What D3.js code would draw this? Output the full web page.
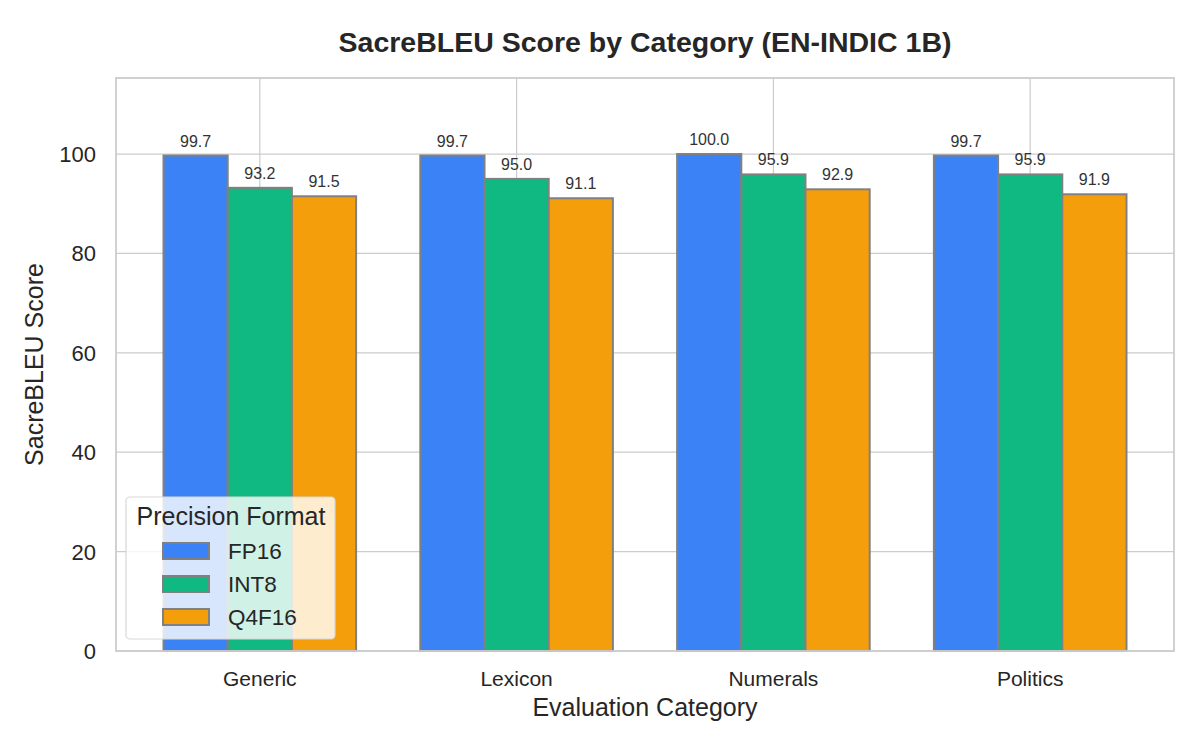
<!DOCTYPE html>
<html>
<head>
<meta charset="utf-8">
<script src="https://cdn.jsdelivr.net/npm/d3@7"></script>
<style>
  body { margin: 0; background: #fff; }
  text { font-family: "Liberation Sans", Arial, sans-serif; }
</style>
</head>
<body>
<svg id="chart"></svg>
<script>
const categories = ['Generic', 'Lexicon', 'Numerals', 'Politics'];
const formats = ['FP16', 'INT8', 'Q4F16'];
const fp16 = [99.7, 99.7, 100.0, 99.7];
const int8 = [93.2, 95.0, 95.9, 95.9];
const q4f16 = [91.5, 91.1, 92.9, 91.9];
const colors = ['#3b82f6', '#10b981', '#f59e0b'];
const yTicks = [0, 20, 40, 60, 80, 100];

const width = 1200, height = 750;
const marginLeft = 116, marginRight = 26, marginTop = 78, marginBottom = 99;

const series = [fp16, int8, q4f16];

const svg = d3.select('#chart')
  .attr('width', width)
  .attr('height', height);

// x is continuous like matplotlib: category index, bars offset by 0.25
const x = d3.scaleLinear()
  .domain([-0.56, 3.56])
  .range([marginLeft, width - marginRight]);
const y = d3.scaleLinear()
  .domain([0, 115.3])
  .range([height - marginBottom, marginTop]);
const barW = 0.25;

// grid
svg.append('g')
  .selectAll('line.h')
  .data(yTicks)
  .join('line')
  .attr('x1', marginLeft).attr('x2', width - marginRight)
  .attr('y1', d => y(d)).attr('y2', d => y(d))
  .attr('stroke', '#cccccc').attr('stroke-width', 1.2);
svg.append('g')
  .selectAll('line.v')
  .data(categories)
  .join('line')
  .attr('x1', (d, i) => x(i)).attr('x2', (d, i) => x(i))
  .attr('y1', marginTop).attr('y2', height - marginBottom)
  .attr('stroke', '#cccccc').attr('stroke-width', 1.2);

// bars
series.forEach((vals, s) => {
  const g = svg.append('g');
  g.selectAll('rect')
    .data(vals)
    .join('rect')
    .attr('x', (d, i) => x(i + (s - 1) * barW - barW / 2))
    .attr('width', x(barW) - x(0))
    .attr('y', d => y(d))
    .attr('height', d => y(0) - y(d))
    .attr('fill', colors[s])
    .attr('stroke', '#808080')
    .attr('stroke-width', 2);
  g.selectAll('text')
    .data(vals)
    .join('text')
    .attr('x', (d, i) => x(i + (s - 1) * barW))
    .attr('y', d => y(d) - 9)
    .attr('text-anchor', 'middle')
    .attr('font-size', '16px')
    .attr('fill', '#333')
    .text(d => d.toFixed(1));
});

// frame
svg.append('rect')
  .attr('x', marginLeft).attr('y', marginTop)
  .attr('width', width - marginLeft - marginRight)
  .attr('height', height - marginTop - marginBottom)
  .attr('fill', 'none')
  .attr('stroke', '#cccccc')
  .attr('stroke-width', 1.8);

// y tick labels
svg.append('g')
  .selectAll('text')
  .data(yTicks)
  .join('text')
  .attr('x', marginLeft - 20)
  .attr('y', d => y(d))
  .attr('dy', '0.36em')
  .attr('text-anchor', 'end')
  .attr('font-size', '22px')
  .attr('fill', '#262626')
  .text(d => d);

// x tick labels
svg.append('g')
  .selectAll('text')
  .data(categories)
  .join('text')
  .attr('x', (d, i) => x(i))
  .attr('y', height - marginBottom + 35)
  .attr('text-anchor', 'middle')
  .attr('font-size', '21px')
  .attr('fill', '#262626')
  .text(d => d);

// axis labels
svg.append('text')
  .attr('x', (marginLeft + width - marginRight) / 2)
  .attr('y', 716)
  .attr('text-anchor', 'middle')
  .attr('font-size', '25px')
  .attr('fill', '#262626')
  .text('Evaluation Category');
svg.append('text')
  .attr('transform', `translate(43,${(marginTop + height - marginBottom) / 2}) rotate(-90)`)
  .attr('text-anchor', 'middle')
  .attr('font-size', '25px')
  .attr('fill', '#262626')
  .text('SacreBLEU Score');

// title
svg.append('text')
  .attr('x', (marginLeft + width - marginRight) / 2)
  .attr('y', 52)
  .attr('text-anchor', 'middle')
  .attr('font-size', '28.5px')
  .attr('font-weight', 'bold')
  .attr('fill', '#262626')
  .text('SacreBLEU Score by Category (EN-INDIC 1B)');

// legend
const legend = svg.append('g');
legend.append('rect')
  .attr('x', 126).attr('y', 497)
  .attr('width', 209).attr('height', 142)
  .attr('rx', 4)
  .attr('fill', 'rgba(255,255,255,0.8)')
  .attr('stroke', '#d8d8d8')
  .attr('stroke-width', 1.2);
legend.append('text')
  .attr('x', 231).attr('y', 525)
  .attr('text-anchor', 'middle')
  .attr('font-size', '25px')
  .attr('fill', '#262626')
  .text('Precision Format');
formats.forEach((f, i) => {
  const cy = 551 + i * 33;
  legend.append('rect')
    .attr('x', 163).attr('y', cy - 8)
    .attr('width', 46).attr('height', 16)
    .attr('fill', colors[i])
    .attr('stroke', '#808080')
    .attr('stroke-width', 2);
  legend.append('text')
    .attr('x', 228).attr('y', cy)
    .attr('dy', '0.36em')
    .attr('font-size', '22.5px')
    .attr('fill', '#262626')
    .text(f);
});
</script>
</body>
</html>
